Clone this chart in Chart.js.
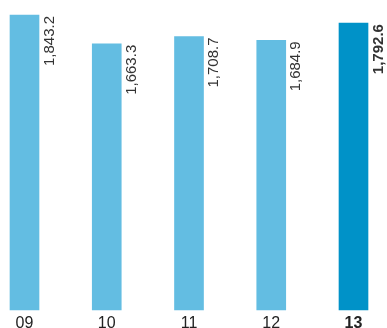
<!DOCTYPE html>
<html>
<head>
<meta charset="utf-8">
<script src="https://cdn.jsdelivr.net/npm/chart.js@4.4.1/dist/chart.umd.min.js"></script>
<style>
  html, body { margin: 0; padding: 0; background: #ffffff; }
  #wrap { width: 387px; height: 328px; position: relative; }
</style>
</head>
<body>
<div id="wrap"><canvas id="years-chart"></canvas></div>
<script>
// yearly totals
var years = ['09', '10', '11', '12', '13'];
var totals = [1843.2, 1663.3, 1708.7, 1684.9, 1792.6];
var barColors = ['#63bde2', '#63bde2', '#63bde2', '#63bde2', '#0092c8'];
var yMax = 1937;

var FONT = '"Liberation Sans", Arial, Helvetica, sans-serif';

function fmt(v) {
    return v.toLocaleString('en-US', { minimumFractionDigits: 1, maximumFractionDigits: 1 });
}

// value written upright beside each bar, last one in bold
var sideLabels = {
    id: 'sideLabels',
    afterDatasetsDraw: function (chart) {
        var ctx = chart.ctx;
        var meta = chart.getDatasetMeta(0);
        ctx.save();
        ctx.fillStyle = '#333333';
        ctx.textAlign = 'right';
        ctx.textBaseline = 'top';
        meta.data.forEach(function (bar, i) {
            var last = i === totals.length - 1;
            ctx.font = (last ? 'bold ' : '') + '15px ' + FONT;
            ctx.save();
            ctx.translate(bar.x + bar.width / 2 + 3, bar.y + 1);
            ctx.rotate(-Math.PI / 2);
            ctx.fillText(fmt(totals[i]), 0, 0);
            ctx.restore();
        });
        ctx.restore();
    }
};

var YearsCanvas = document.getElementById('years-chart');
var YearsChart = new Chart(YearsCanvas, {
    type: 'bar',
    data: {
        labels: years,
        datasets: [{
            data: totals,
            backgroundColor: barColors,
            borderWidth: 0,
            barThickness: 29,
            clip: false
        }]
    },
    options: {
        responsive: true,
        maintainAspectRatio: false,
        animation: false,
        layout: {
            padding: { left: 24.5, right: 33.5, top: 0, bottom: -9 }
        },
        plugins: {
            legend: { display: false },
            tooltip: { enabled: false }
        },
        scales: {
            x: {
                offset: false,
                grid: { display: false, drawTicks: false },
                border: { display: false },
                ticks: {
                    padding: 4,
                    color: '#222222',
                    maxRotation: 0,
                    autoSkip: false,
                    font: function (c) {
                        return { family: FONT, size: 16, weight: c.index === 4 ? 'bold' : 'normal' };
                    }
                }
            },
            y: {
                display: false,
                min: 0,
                max: yMax
            }
        }
    },
    plugins: [sideLabels]
});
</script>
</body>
</html>
